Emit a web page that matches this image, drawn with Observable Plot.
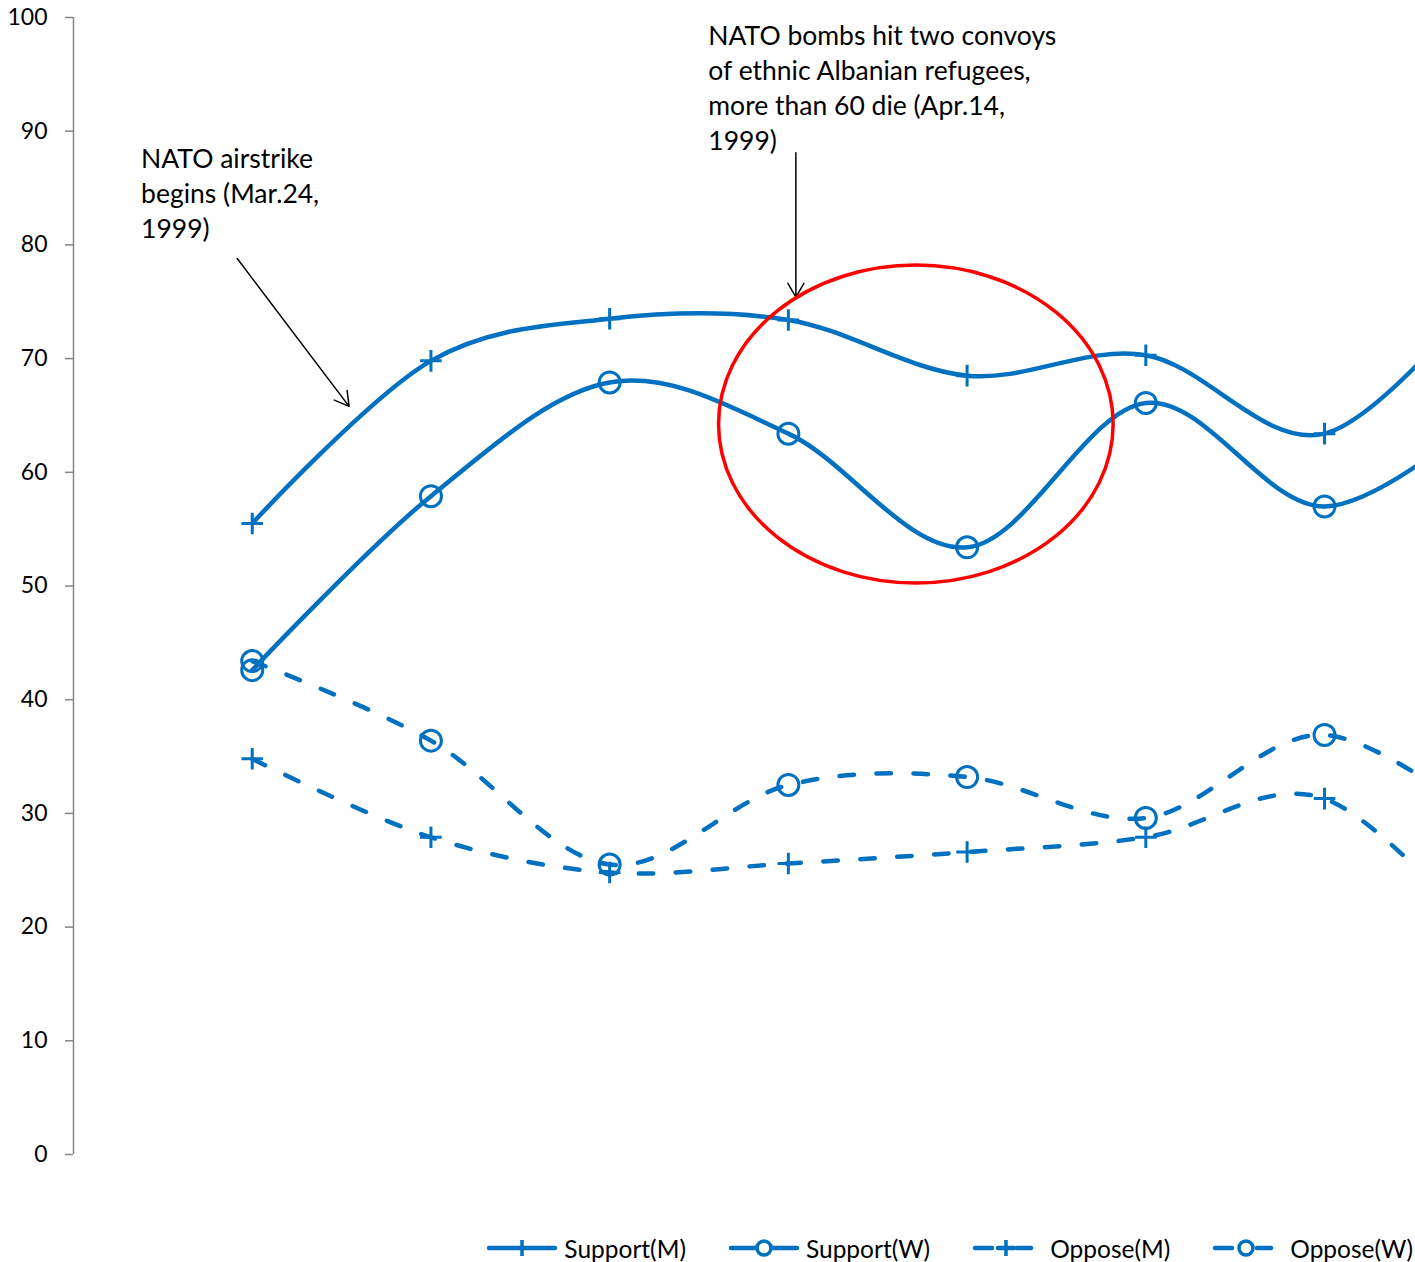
<!DOCTYPE html>
<html>
<head>
<meta charset="utf-8">
<script src="https://cdn.jsdelivr.net/npm/d3@7"></script>
<script src="https://cdn.jsdelivr.net/npm/@observablehq/plot@0.6"></script>
<style>
  body { margin: 0; background: white; font-family: Lato, "Open Sans", sans-serif; }
  #wrap { width: 1415px; }
  #legend { height: 62px; display: flex; justify-content: flex-end; align-items: flex-start; padding-top: 30px; padding-right: 2px; box-sizing: border-box; font-size: 24.5px; color: #000; }
  .item { display: flex; align-items: center; height: 36px; margin-left: 42px; white-space: nowrap; }
</style>
</head>
<body>
<div id="wrap"></div>
<script>
// Survey waves (x positions are just indices; the reference shows no x labels)
const waves = [0, 1, 2, 3, 4, 5, 6, 7];
const supportM = [55.5, 69.8, 73.5, 73.4, 68.5, 70.3, 63.4, 78];
const supportW = [42.6, 57.9, 67.9, 63.4, 53.4, 66.1, 57.0, 66.5];
const opposeM  = [34.8, 27.9, 24.8, 25.6, 26.6, 27.9, 31.3, 17];
const opposeW  = [43.4, 36.4, 25.5, 32.5, 33.2, 29.6, 36.9, 28];
const yTicks = [0, 10, 20, 30, 40, 50, 60, 70, 80, 90, 100];

const seriesDefs = [
  {name: "Support(M)", values: supportM, symbol: "plus", dashed: false},
  {name: "Support(W)", values: supportW, symbol: "circle", dashed: false},
  {name: "Oppose(M)", values: opposeM, symbol: "plus", dashed: true},
  {name: "Oppose(W)", values: opposeW, symbol: "circle", dashed: true}
];

const annotations = [
  {x: -0.622, y: 84.7, text: "NATO airstrike\nbegins (Mar.24,\n1999)"},
  {x: 2.552, y: 93.95, text: "NATO bombs hit two convoys\nof ethnic Albanian refugees,\nmore than 60 die (Apr.14,\n1999)"}
];
const arrows = [
  {x1: -0.084, y1: 78.8, x2: 0.542, y2: 65.8},
  {x1: 3.042, y1: 88.1, x2: 3.042, y2: 75.4}
];
const highlight = {cx: 3.716, cy: 64.2, rx: 1.104, ry: 13.98};

const blue = "#0070C0";
const marks = [];
for (const s of seriesDefs) {
  const rows = waves.map((w, i) => ({x: w, y: s.values[i]}));
  marks.push(Plot.line(rows, {
    x: "x", y: "y", curve: "cardinal", stroke: blue, strokeWidth: 4.5,
    strokeLinecap: "round",
    strokeDasharray: s.dashed ? "14.5,22.5" : null, clip: true
  }));
  marks.push(Plot.dot(rows, {
    x: "x", y: "y", symbol: s.symbol, r: s.symbol === "plus" ? 7 : 10.5,
    stroke: blue, strokeWidth: 3, fill: "none", clip: true
  }));
}

const chart = Plot.plot({
  width: 1415, height: 1200,
  marginTop: 17, marginBottom: 46, marginLeft: 73, marginRight: 0,
  style: {fontFamily: "Lato, 'Open Sans', sans-serif", background: "white"},
  x: {domain: [-1, 6.509], axis: null},
  y: {domain: [0, 100], axis: null},
  marks: [
    Plot.ruleX([-1], {stroke: "#868686", strokeWidth: 1.5}),
    Plot.axisY({ticks: yTicks, tickSize: 8, tickPadding: 18, stroke: "#868686", strokeWidth: 1.5,
      fill: "black", fontSize: 23, tickFormat: d => String(d)}),
    ...marks,
    Plot.arrow(arrows, {x1: "x1", y1: "y1", x2: "x2", y2: "y2", stroke: "black", strokeWidth: 1.5, headLength: 16, headAngle: 60}),
    Plot.text(annotations, {x: "x", y: "y", text: "text", textAnchor: "start", lineAnchor: "middle",
      lineHeight: 1.32, fontSize: 26.5, fill: "black"})
  ]
});

const sx = chart.scale("x"), sy = chart.scale("y");
d3.select(chart).append("ellipse")
  .attr("cx", sx.apply(highlight.cx))
  .attr("cy", sy.apply(highlight.cy))
  .attr("rx", sx.apply(highlight.cx + highlight.rx) - sx.apply(highlight.cx))
  .attr("ry", sy.apply(highlight.cy) - sy.apply(highlight.cy + highlight.ry))
  .attr("fill", "none").attr("stroke", "#FF0000").attr("stroke-width", 3.5);

document.getElementById("wrap").appendChild(chart);

// Legend below the chart
const legend = document.createElement("div");
legend.id = "legend";
for (const s of seriesDefs) {
  const item = document.createElement("div");
  item.className = "item";
  const w = s.dashed ? 62 : 72;
  const svg = d3.create("svg").attr("width", w).attr("height", 26)
    .style("margin-right", s.dashed ? "16px" : "6px");
  const cx = s.dashed ? 34 : w / 2;
  if (s.dashed) {
    svg.append("line").attr("x1", 3).attr("x2", 20).attr("y1", 13).attr("y2", 13);
    svg.append("line").attr("x1", 45).attr("x2", 59).attr("y1", 13).attr("y2", 13);
    if (s.symbol === "plus") svg.append("line").attr("x1", 26).attr("x2", 42).attr("y1", 13).attr("y2", 13);
  } else {
    svg.append("line").attr("x1", 3).attr("x2", w - 3).attr("y1", 13).attr("y2", 13);
  }
  svg.selectAll("line").attr("stroke", blue).attr("stroke-width", 4.5).attr("stroke-linecap", "round");
  if (s.symbol === "plus") {
    svg.append("path").attr("d", `M${cx},5V21M${cx-8},13H${cx+8}`).attr("stroke", blue).attr("stroke-width", 3.5);
  } else {
    svg.append("circle").attr("cx", cx).attr("cy", 13).attr("r", 7).attr("fill", "white").attr("stroke", blue).attr("stroke-width", 3.5);
  }
  item.appendChild(svg.node());
  const label = document.createElement("span");
  label.textContent = s.name;
  item.appendChild(label);
  legend.appendChild(item);
}
document.getElementById("wrap").appendChild(legend);
</script>
</body>
</html>
